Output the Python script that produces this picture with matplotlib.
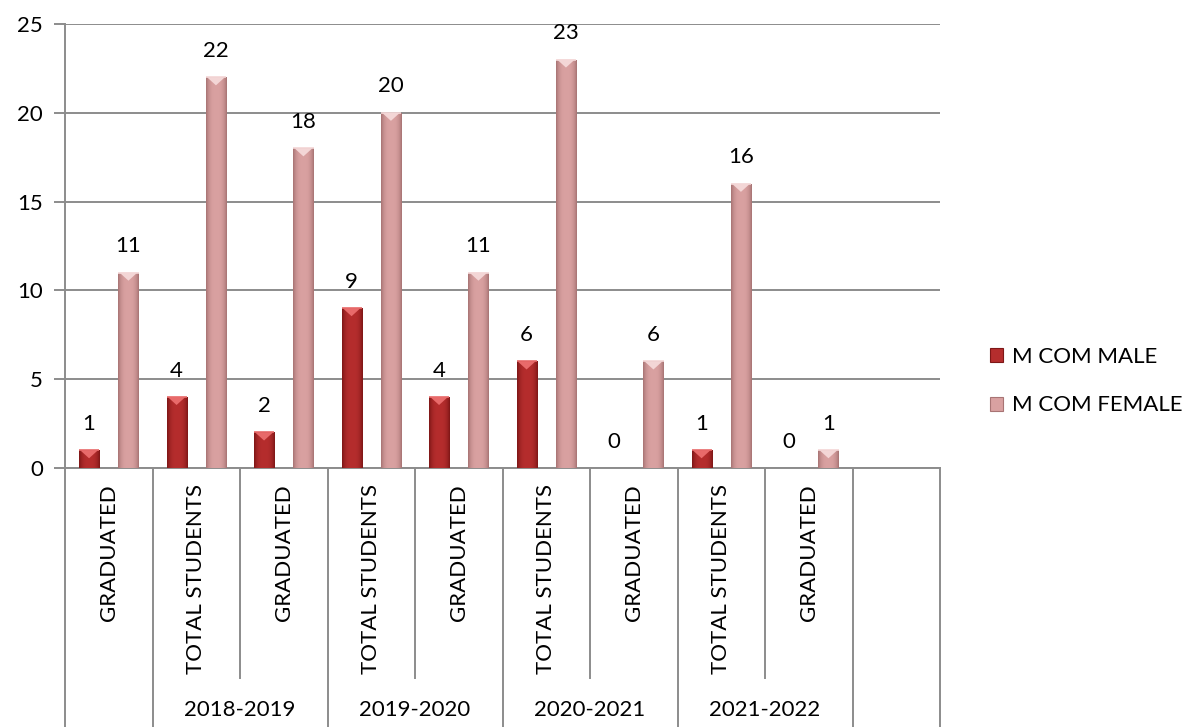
import numpy as np
import matplotlib.pyplot as plt
from matplotlib.patches import Polygon, Rectangle
from matplotlib.transforms import blended_transform_factory

plt.rcParams['font.family'] = ['Lato', 'DejaVu Sans']

# data
categories = ['GRADUATED', 'TOTAL STUDENTS', 'GRADUATED', 'TOTAL STUDENTS', 'GRADUATED',
              'TOTAL STUDENTS', 'GRADUATED', 'TOTAL STUDENTS', 'GRADUATED', '']
groups = ['', '2018-2019', '2019-2020', '2020-2021', '2021-2022', '']
group_sizes = [1, 2, 2, 2, 2, 1]
male = [1, 4, 2, 9, 4, 6, 0, 1, 0]
female = [11, 22, 18, 20, 11, 23, 6, 16, 1]
series_names = ['M COM MALE', 'M COM FEMALE']

male_colors = ('#B52D2D', '#7E1717', '#E86A6A')     # body, edge, top bevel
female_colors = ('#D9A1A1', '#A87474', '#F3D6D6')

fs = 16

fig = plt.figure(figsize=(11.86, 7.27), dpi=100)
ax = fig.add_axes([65 / 1186, 1 - 468 / 727, 875 / 1186, 444 / 727])

n = len(categories)
x = np.arange(n)
w = 0.23
off = 0.225
grid_c = '#8C8C8C'

ax.set_xlim(-0.5, n - 0.5)
ax.set_ylim(0, 25)
ax.set_yticks(range(0, 26, 5))
ax.yaxis.grid(True, color=grid_c, lw=1.4)
ax.set_axisbelow(True)
for s in ['top', 'right', 'bottom']:
    ax.spines[s].set_visible(False)
ax.spines['left'].set_color(grid_c)
ax.spines['left'].set_linewidth(1.4)
ax.tick_params(axis='y', length=8, width=1.4, color=grid_c, labelsize=fs, pad=8)
ax.set_xticks([])


def bevel_bars(xs, vals, colors):
    body, edge, top = colors
    bars = ax.bar(xs, vals, w, color=body, edgecolor='none', zorder=2)
    px_per_unit = ax.transData.transform((0, 1))[1] - ax.transData.transform((0, 0))[1]
    px_per_x = ax.transData.transform((1, 0))[0] - ax.transData.transform((0, 0))[0]
    ec = np.array(plt.matplotlib.colors.to_rgba(edge))
    bc = np.array(plt.matplotlib.colors.to_rgba(body))
    for b in bars:
        bx, bw, bh = b.get_x(), b.get_width(), b.get_height()
        if bh <= 0:
            continue
        # horizontal shading: darker at the sides
        shade = np.abs(np.linspace(-1, 1, 40)) ** 3
        img = np.zeros((1, 40, 4))
        for i, s in enumerate(shade):
            img[0, i] = bc * (1 - s) + ec * s
        im = ax.imshow(img, extent=(bx, bx + bw, 0, bh), aspect='auto', zorder=3,
                       interpolation='bilinear')
        im.set_clip_path(b)
        # top bevel triangle
        th = min(bw * px_per_x * 0.4 / px_per_unit, bh)
        tri = Polygon([(bx + bw * 0.06, bh), (bx + bw * 0.94, bh), (bx + bw / 2, bh - th)],
                      closed=True, color=top, zorder=4, lw=0)
        ax.add_patch(tri)
        ax.plot([bx, bx + bw], [bh, bh], color=top, lw=1.2, zorder=4, solid_capstyle='butt')
    return bars


bm = bevel_bars(x[:len(male)] - off, male, male_colors)
bf = bevel_bars(x[:len(female)] + off, female, female_colors)

for xs, vals in [(x[:len(male)] - off, male), (x[:len(female)] + off, female)]:
    for xi, v in zip(xs, vals):
        ax.annotate(str(v), (xi, v), xytext=(0, 19), textcoords='offset points',
                    ha='center', va='center', fontsize=fs, zorder=5)

# multi-level category axis
trans = blended_transform_factory(ax.transData, ax.transAxes)
y_short = -0.473
y_long = -0.62
ax.plot([-0.5, n - 0.5], [0, 0], color=grid_c, lw=1.4, transform=trans, clip_on=False)
for i, lab in enumerate(categories):
    ax.text(x[i], -0.036, lab, rotation=90, ha='center', va='top', fontsize=fs,
            transform=trans)

bounds = np.concatenate([[0], np.cumsum(group_sizes)]) - 0.5
for b in np.arange(-0.5, n + 0.5):
    y_end = y_long if np.any(np.isclose(bounds, b)) else y_short
    ax.plot([b, b], [0, y_end], color=grid_c, lw=1.4, transform=trans, clip_on=False)
for g, lo, hi in zip(groups, bounds[:-1], bounds[1:]):
    ax.text((lo + hi) / 2, -0.545, g, ha='center', va='center', fontsize=fs,
            transform=trans)

# legend
handles = [Rectangle((0, 0), 1, 1, facecolor=male_colors[0], edgecolor=male_colors[1], lw=0.8),
           Rectangle((0, 0), 1, 1, facecolor=female_colors[0], edgecolor=female_colors[1], lw=0.8)]
fig.legend(handles, series_names, loc='center left', bbox_to_anchor=(970 / 1186, 1 - 381 / 727),
           frameon=False, fontsize=fs, handlelength=0.6, handleheight=0.6,
           handletextpad=0.4, labelspacing=1.3)

fig.savefig('out.png', dpi=100)
